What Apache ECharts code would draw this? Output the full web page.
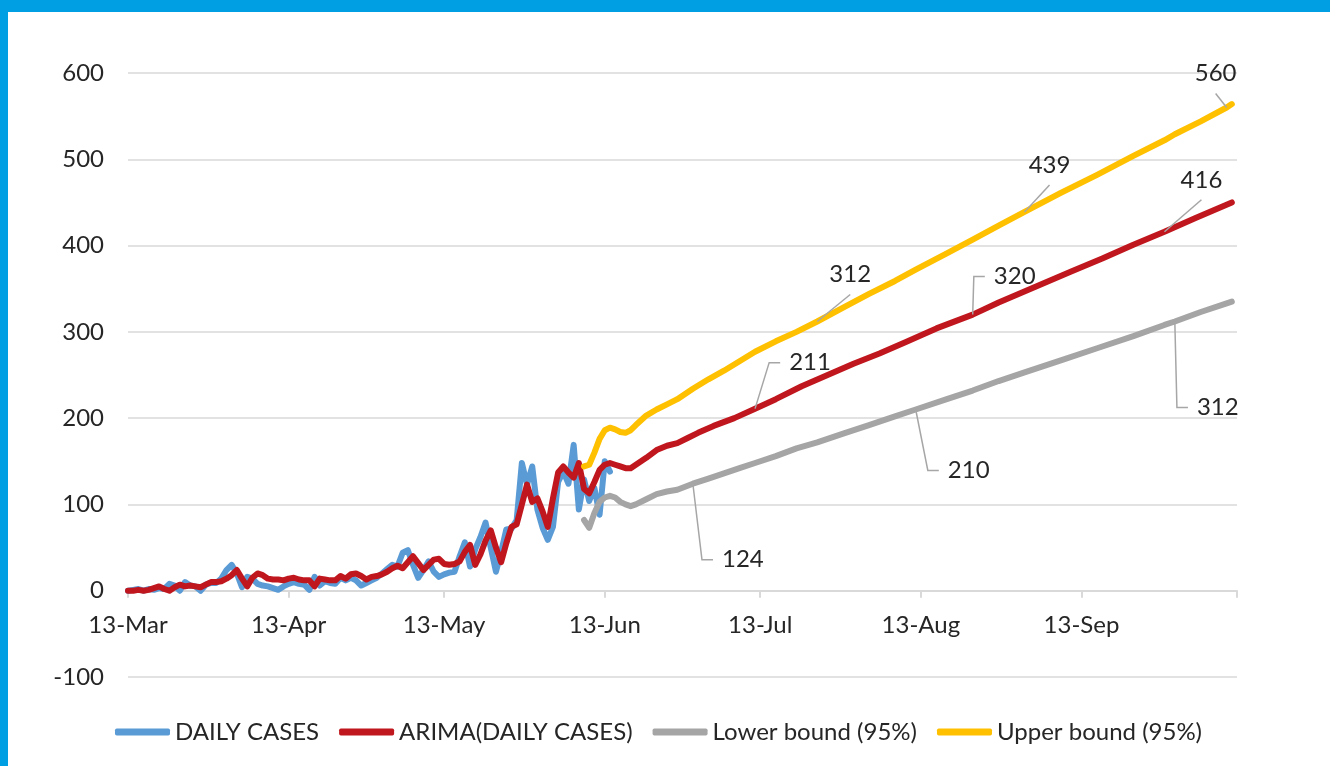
<!DOCTYPE html>
<html><head><meta charset="utf-8">
<script src="https://cdn.jsdelivr.net/npm/echarts@6/dist/echarts.min.js"></script>
<style>
html,body{margin:0;padding:0;background:#fff;}
#chart{position:absolute;left:0;top:0;width:1330px;height:766px;}
#bt{position:absolute;left:0;top:0;width:1330px;height:12px;background:#009FE3;}
#bl{position:absolute;left:0;top:0;width:8px;height:766px;background:#009FE3;}
</style></head><body>
<div id="chart"></div><div id="bt"></div><div id="bl"></div>
<script>
// x = days since 13-Mar
const tickDays = [0, 31, 61, 92, 122, 153, 184, 214];
const tickLabels = ['13-Mar', '13-Apr', '13-May', '13-Jun', '13-Jul', '13-Aug', '13-Sep', ''];

// DAILY CASES, one value per day from 13-Mar
const dailyCases = [0, 1, 2, 0, 2, 1, 3, 2, 8, 6, 0, 10, 6, 5, 0, 7, 9, 9, 14, 24,
  30, 20, 4, 16, 14, 8, 6, 5, 3, 1, 5, 8, 10, 8, 7, 1, 16, 6, 11, 9,
  8, 15, 12, 15, 12, 6, 9, 12, 15, 20, 25, 30, 28, 44, 47, 30, 15, 24, 34, 22,
  16, 19, 21, 22, 40, 56, 28, 48, 62, 79, 50, 22, 45, 71, 72, 82, 148, 123, 144, 94,
  73, 59, 74, 126, 138, 124, 169, 94, 129, 104, 119, 88, 150, 138];

// ARIMA fitted values, one per day from 13-Mar
const arimaFit = [0, 0, 1, 0, 1, 3, 5, 2, 0, 4, 7, 5, 6, 5, 4, 7, 10, 10, 11, 14,
  18, 24, 14, 5, 15, 20, 18, 14, 13, 13, 12, 14, 15, 13, 12, 12, 5, 14, 13, 12,
  12, 17, 14, 19, 20, 17, 13, 16, 17, 19, 22, 26, 29, 26, 33, 40, 32, 24, 30, 36,
  37, 31, 30, 31, 34, 45, 53, 30, 42, 58, 70, 50, 33, 55, 74, 77, 100, 123, 103, 107,
  92, 74, 107, 137, 144, 137, 131, 148, 118, 113, 126, 140, 146, 148, 146, 144];

// ARIMA forecast
const arimaFcDays = [96, 97, 98, 100, 102, 104, 106, 108, 110, 113, 117, 121, 125, 130, 135, 140, 145, 150, 156, 163, 168, 175, 182, 188, 194, 200, 206, 213];
const arimaFcVals = [142, 142, 146, 154, 163, 168, 171, 177, 183, 191, 200, 211, 222, 237, 250, 263, 275, 288, 304, 320, 334, 352, 370, 385, 401, 416, 432, 450];

// 95% bounds
const boundDays = [88, 89, 90, 91, 92, 93, 94, 95, 96, 97, 98, 100, 102, 104, 106, 109, 112, 115, 118, 121, 125, 129, 133, 138, 143, 148, 152, 158, 163, 168, 173, 180, 187, 194, 200, 202, 207, 212, 213];
const upperVals = [144, 146, 160, 176, 186, 189, 187, 184, 183, 186, 192, 203, 210, 216, 222, 234, 245, 255, 266, 277, 289, 300, 312, 328, 344, 359, 372, 391, 407, 423, 439, 461, 482, 504, 522, 529, 544, 560, 564];
const lowerVals = [82, 73, 90, 103, 108, 110, 108, 103, 100, 98, 100, 106, 112, 115, 117, 124, 130, 136, 142, 148, 156, 165, 172, 182, 192, 202, 210, 222, 232, 243, 253, 267, 281, 295, 308, 312, 323, 333, 335];

const seriesNames = ['DAILY CASES', 'ARIMA(DAILY CASES)', 'Lower bound (95%)', 'Upper bound (95%)'];
const seriesColors = ['#5B9BD5', '#C0161D', '#A5A5A5', '#FFC000'];

// labelled points: series index, day; offsets are layout (pixels)
const callouts = [
  {s: 3, day: 133, dx: 33, dy: -47, style: 'straight'},
  {s: 3, day: 173, dx: 25, dy: -47, style: 'straight'},
  {s: 3, day: 212, dx: -11, dy: -34, style: 'straight'},
  {s: 1, day: 121, dx: 55, dy: -46, style: 'elbow'},
  {s: 1, day: 163, dx: 42, dy: -38, style: 'elbow'},
  {s: 1, day: 200, dx: 37, dy: -52, style: 'straight'},
  {s: 2, day: 109, dx: 50, dy: 76, style: 'elbow'},
  {s: 2, day: 152, dx: 53, dy: 61, style: 'elbow'},
  {s: 2, day: 202, dx: 43, dy: 86, style: 'elbow'}
];

const FONT = 'Lato';
const TXT = '#262626';

const seriesData = [
  dailyCases.map((v, i) => [i, v]),
  arimaFit.map((v, i) => [i, v]).concat(arimaFcDays.map((d, i) => [d, arimaFcVals[i]])),
  boundDays.map((d, i) => [d, lowerVals[i]]),
  boundDays.map((d, i) => [d, upperVals[i]])
];

const seriesItems = seriesData.map(arr => arr.map(p => p));
callouts.forEach(c => {
  const arr = seriesItems[c.s];
  const k = arr.findIndex(p => p[0] === c.day);
  c.point = seriesData[c.s][k];
  arr[k] = {
    value: c.point,
    label: {
      show: true, position: 'inside', offset: [c.dx, c.dy],
      fontSize: 24, fontFamily: FONT, color: TXT,
      formatter: p => String(p.value[1])
    }
  };
});

const chart = echarts.init(document.getElementById('chart'), null, {renderer: 'canvas'});

const option = {
  animation: false,
  backgroundColor: '#fff',
  grid: {left: 128, right: 93, top: 73, bottom: 89},
  legend: {
    top: 715, left: 110,
    icon: 'roundRect', itemWidth: 55, itemHeight: 7, itemGap: 20,
    textStyle: {fontSize: 24, fontFamily: FONT, color: TXT},
    data: seriesNames
  },
  xAxis: {
    type: 'value', min: 0, max: 214,
    axisLine: {show: true, onZero: true, lineStyle: {color: '#d9d9d9', width: 2}},
    axisTick: {show: true, length: 7, customValues: tickDays, lineStyle: {color: '#d9d9d9', width: 2}},
    axisLabel: {
      show: true, margin: -64, fontSize: 24, fontFamily: FONT, color: TXT,
      customValues: tickDays.slice(0, 7),
      formatter: v => { const i = tickDays.indexOf(Math.round(v)); return i >= 0 ? tickLabels[i] : ''; }
    },
    splitLine: {show: false}
  },
  yAxis: {
    type: 'value', min: -100, max: 600, interval: 100,
    axisLine: {show: false}, axisTick: {show: false},
    axisLabel: {margin: 24, fontSize: 24, fontFamily: FONT, color: TXT},
    splitLine: {show: true, lineStyle: {color: '#d9d9d9', width: 1.5}}
  },
  series: seriesItems.map((items, i) => ({
    name: seriesNames[i],
    type: 'line',
    data: items,
    showSymbol: true, symbol: 'circle', symbolSize: 1,
    itemStyle: {color: seriesColors[i]},
    lineStyle: {color: seriesColors[i], width: 6, cap: 'round', join: 'round'},
    emphasis: {disabled: true},
    silent: true,
    z: 2 + i
  }))
};
chart.setOption(option);

// leader lines from the plotted point to its label
const mctx = document.createElement('canvas').getContext('2d');
mctx.font = '24px ' + FONT;
const graphics = callouts.map(c => {
  const p = chart.convertToPixel({gridIndex: 0}, c.point);
  const cx = p[0] + c.dx, cy = p[1] + c.dy;
  const w = mctx.measureText(String(c.point[1])).width;
  let pts;
  if (c.style === 'elbow') {
    const left = cx - w / 2;
    pts = [p, [left - 20, cy], [left - 9, cy]];
  } else {
    pts = [p, [cx, cy + 20]];
  }
  return {type: 'polyline', silent: true, z: 50, shape: {points: pts},
    style: {stroke: '#a6a6a6', lineWidth: 1.5, fill: null}};
});
chart.setOption({graphic: graphics});
</script>
</body></html>
